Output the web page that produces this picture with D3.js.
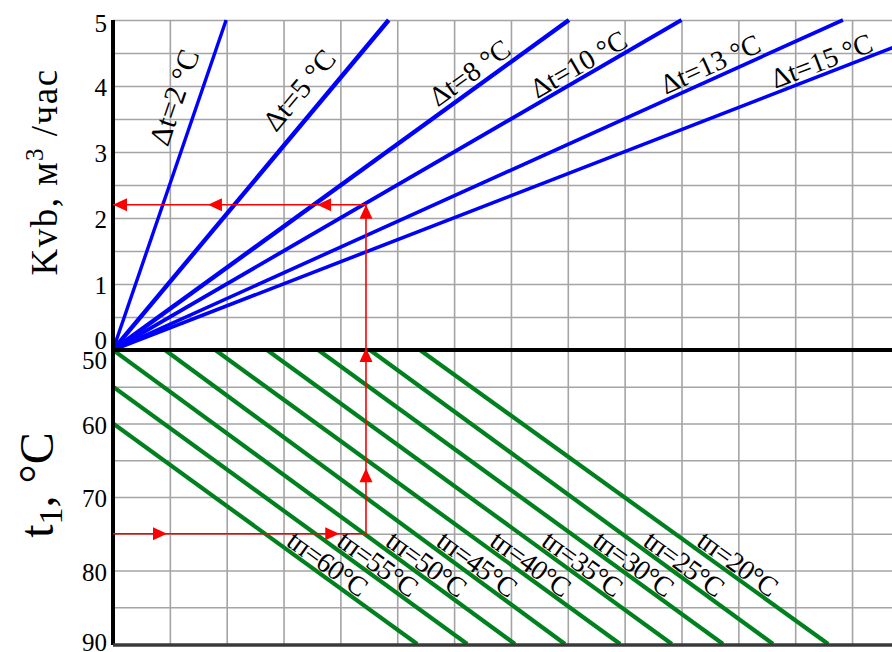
<!DOCTYPE html>
<html><head><meta charset="utf-8">
<script src="https://cdn.jsdelivr.net/npm/d3@7"></script>
<style>
body{margin:0;background:#fff}
svg{display:block}
text{font-family:"Liberation Serif","Times New Roman",serif;fill:#000}
</style>
</head><body>
<svg id="c" width="892" height="652"></svg>
<script>
// ---------- data ----------
const kvbTicks = [0, 1, 2, 3, 4, 5];
const t1Ticks = [50, 60, 70, 80, 90];
const dtValues = [2, 5, 8, 10, 13, 15];               // Δt, °C
const dtEndX = [1.99, 4.85, 8.02, 10.0, 12.84, 14.97]; // x (grid units) where Kvb reaches 5
const dtEndKvb = [5, 5, 5, 5, 5, 5];
const tpValues = [60, 55, 50, 45, 40, 35, 30, 25, 20]; // tп, °C
const tpStartX = [0, 0, 0, 0.915, 1.80, 2.71, 3.61, 4.52, 5.40];
const tpStartT1 = [60, 55, 50, 50, 50, 50, 50, 50, 50];
const tpEndX = [5.35, 6.23, 7.07, 7.95, 8.92, 9.83, 10.73, 11.61, 12.58];
const tpEndT1 = [90, 90, 90, 90, 90, 90, 90, 90, 90];
const guideT1 = 75, guideX = 4.45, guideKvb = 2.2;   // red example path
const arrowsRightX = [0.95, 3.98];                   // on t1 = 75
const arrowsUpT1 = [66.1];                           // lower pane
const arrowsUpKvb = [0.03, 2.2];                     // upper pane
const arrowsLeftX = [3.59, 1.67, 0];                 // on Kvb = 2.2

// ---------- layout ----------
const W = 892, H = 652;
const FONT = "'Liberation Serif', 'Times New Roman', serif";
const X0 = 113, CELL = 56.85, YTOP = 20, YMID = 350, YBOT = 644;
const x = d3.scaleLinear().domain([0, 14]).range([X0, X0 + 14 * CELL]);
const yK = d3.scaleLinear().domain([0, 5]).range([YMID, YTOP]);
const yT = d3.scaleLinear().domain([50, 90]).range([YMID, YBOT]);

const svg = d3.select("#c");
const defs = svg.append("defs");
defs.append("clipPath").attr("id", "clipTop").append("rect")
  .attr("x", X0).attr("y", YTOP - 2).attr("width", W - X0).attr("height", YMID - YTOP + 2);
defs.append("clipPath").attr("id", "clipBot").append("rect")
  .attr("x", X0).attr("y", YMID).attr("width", W - X0).attr("height", YBOT - YMID);

const gridColor = "#a4a4a4";
svg.append("g").attr("transform", `translate(${X0},0)`)
  .call(d3.axisLeft(yK).tickValues(d3.range(0.5, 5.01, 0.5)).tickSize(-(W - X0)).tickFormat(""))
  .call(g => g.select(".domain").remove())
  .call(g => g.selectAll("line").attr("stroke", gridColor).attr("stroke-width", 1.6));
svg.append("g").attr("transform", `translate(${X0},0)`)
  .call(d3.axisLeft(yT).tickValues(d3.range(55, 86, 5)).tickSize(-(W - X0)).tickFormat(""))
  .call(g => g.select(".domain").remove())
  .call(g => g.selectAll("line").attr("stroke", gridColor).attr("stroke-width", 1.6));
svg.append("g").attr("transform", `translate(0,${YTOP})`)
  .call(d3.axisTop(x).tickValues(d3.range(1, 14)).tickSize(-(YBOT - YTOP)).tickFormat(""))
  .call(g => g.select(".domain").remove())
  .call(g => g.selectAll("line").attr("stroke", gridColor).attr("stroke-width", 1.6));

// green lines
const gLine = d3.line().x(d => x(d[0])).y(d => yT(d[1]));
const gG = svg.append("g").attr("clip-path", "url(#clipBot)");
tpValues.forEach((tp, i) => {
  gG.append("path")
    .attr("d", gLine([[tpStartX[i], tpStartT1[i]], [tpEndX[i], tpEndT1[i]]]))
    .attr("stroke", "#00801e").attr("stroke-width", 4.2).attr("fill", "none");
});

// blue lines
const bLine = d3.line().x(d => x(d[0])).y(d => yK(d[1]));
const bG = svg.append("g").attr("clip-path", "url(#clipTop)");
const blueW = [3.4, 4.4, 4.4, 3.8, 3.6, 3.6];
dtValues.forEach((dt, i) => {
  bG.append("path")
    .attr("d", bLine([[0, 0], [dtEndX[i], dtEndKvb[i]]]))
    .attr("stroke", "#0000ff").attr("stroke-width", blueW[i]).attr("fill", "none");
});

// axis lines
svg.append("line").attr("x1", X0).attr("x2", X0).attr("y1", YTOP).attr("y2", YBOT + 1)
  .attr("stroke", "#000").attr("stroke-width", 4);
svg.append("line").attr("x1", X0).attr("x2", W).attr("y1", yK(0)).attr("y2", yK(0))
  .attr("stroke", "#000").attr("stroke-width", 4);
svg.append("line").attr("x1", X0).attr("x2", W).attr("y1", YBOT + 1).attr("y2", YBOT + 1)
  .attr("stroke", "#3a3a3a").attr("stroke-width", 3.5);

// red guide path
const red = "#ff0000";
const rG = svg.append("g");
rG.append("path")
  .attr("d", `M${x(0)},${yT(guideT1)}H${x(guideX)}V${yK(guideKvb)}H${x(0)}`)
  .attr("stroke", red).attr("stroke-width", 1.6).attr("fill", "none");
function arrow(px, py, angle) {
  rG.append("path").attr("d", "M0,0L-14,-6.5L-14,6.5Z").attr("fill", red)
    .attr("transform", `translate(${px},${py}) rotate(${angle})`);
}
arrowsRightX.forEach(v => arrow(x(v), yT(guideT1), 0));
arrowsUpT1.forEach(v => arrow(x(guideX), yT(v), -90));
arrowsUpKvb.forEach(v => arrow(x(guideX), yK(v), -90));
arrowsLeftX.forEach(v => arrow(x(v), yK(guideKvb), 180));

// Δt labels
const dtLabelKvb = [3.0, 3.15, 3.6, 3.75, 3.8, 3.9];
const dtLabelOff = [14, 14, 6, 4, 5, 4];
const dtLabelSize = [30, 29, 28, 28, 28, 28];
dtValues.forEach((dt, i) => {
  const ax = x(0), ay = yK(0), bx = x(dtEndX[i]), by = yK(dtEndKvb[i]);
  const ang = Math.atan2(by - ay, bx - ax) * 180 / Math.PI;
  const k = dtLabelKvb[i];
  const px = x(dtEndX[i] * k / dtEndKvb[i]), py = yK(k);
  svg.append("text")
    .attr("transform", `translate(${px},${py}) rotate(${ang})`)
    .attr("y", -dtLabelOff[i])
    .style("font-family", FONT)
    .attr("font-size", dtLabelSize[i])
    .text(`Δt=${dt} °C`);
});

// tп labels
const tpLabelT1 = 76.8;
tpValues.forEach((tp, i) => {
  const ax = x(tpStartX[i]), ay = yT(tpStartT1[i]), bx = x(tpEndX[i]), by = yT(tpEndT1[i]);
  const ang = Math.atan2(by - ay, bx - ax) * 180 / Math.PI;
  const f = (tpLabelT1 - tpStartT1[i]) / (tpEndT1[i] - tpStartT1[i]);
  const px = x(tpStartX[i] + f * (tpEndX[i] - tpStartX[i])), py = yT(tpLabelT1);
  svg.append("text")
    .attr("transform", `translate(${px},${py}) rotate(${ang})`)
    .attr("y", -3)
    .style("font-family", FONT)
    .attr("font-size", 28)
    .attr("letter-spacing", -0.8)
    .text(`tп=${tp}°C`);
});

// tick labels
const tickFont = 25;
svg.append("g").attr("transform", `translate(${X0},0)`)
  .call(d3.axisLeft(yK).tickValues(kvbTicks).tickSize(0).tickPadding(6).tickFormat(d3.format("d")))
  .call(g => g.select(".domain").remove())
  .call(g => g.selectAll("text").style("font-family", FONT).style("font-size", tickFont + "px")
    .attr("dy", d => d === 0 ? "-0.06em" : d === 5 ? "0.45em" : "0.38em"));
svg.append("g").attr("transform", `translate(${X0},0)`)
  .call(d3.axisLeft(yT).tickValues(t1Ticks).tickSize(0).tickPadding(6).tickFormat(d3.format("d")))
  .call(g => g.select(".domain").remove())
  .call(g => g.selectAll("text").style("font-family", FONT).style("font-size", tickFont + "px")
    .attr("dy", d => d === 50 ? "0.72em" : d === 90 ? "0.25em" : "0.38em"));

// axis titles
const t1 = svg.append("text").attr("transform", "translate(57,172) rotate(-90)")
  .attr("text-anchor", "middle").style("font-family", FONT).attr("font-size", 37)
  .attr("letter-spacing", 1.5);
t1.append("tspan").text("Kvb,  м");
t1.append("tspan").attr("font-size", 25).attr("dy", -14).text("3");
t1.append("tspan").attr("dy", 14).text(" /час");

const t2 = svg.append("text").attr("transform", "translate(53,485) rotate(-90)")
  .attr("text-anchor", "middle").style("font-family", FONT).attr("font-size", 48);
t2.append("tspan").text("t");
t2.append("tspan").attr("font-size", 34).attr("dy", 9).text("1");
t2.append("tspan").attr("dy", -9).text(", °C");
</script>
</body></html>
